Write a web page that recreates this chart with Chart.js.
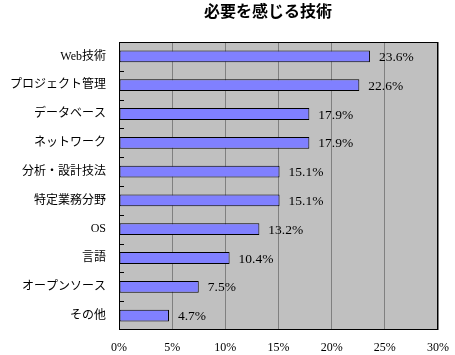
<!DOCTYPE html>
<html><head><meta charset="utf-8">
<script src="https://cdn.jsdelivr.net/npm/chart.js@4"></script>
<style>html,body{margin:0;padding:0;background:#fff}#wrap{width:455px;height:355px}</style>
</head><body><div id="wrap"><canvas id="c"></canvas></div>
<script>
const title = "必要を感じる技術";
const categories = ["Web技術","プロジェクト管理","データベース","ネットワーク","分析・設計技法","特定業務分野","OS","言語","オープンソース","その他"];
const values = [23.6,22.6,17.9,17.9,15.1,15.1,13.2,10.4,7.5,4.7];
const xTicks = [0,5,10,15,20,25,30];

const SERIF = '"Liberation Serif", "Noto Sans CJK JP", serif';
const deco = {
  id:'deco',
  beforeDraw(chart){
    const {ctx, chartArea:a} = chart;
    ctx.save(); ctx.fillStyle='#C0C0C0';
    ctx.fillRect(a.left,a.top,a.right-a.left,a.bottom-a.top); ctx.restore();
  },
  afterDatasetsDraw(chart){
    const {ctx, chartArea:a} = chart;
    const ys = chart.scales.y;
    ctx.save();
    ctx.strokeStyle='#000'; ctx.lineWidth=1;
    ctx.strokeRect(Math.round(a.left)+0.5, Math.round(a.top)+0.5, Math.round(a.right-a.left)-1, Math.round(a.bottom-a.top)-1);
    ctx.beginPath();
    for(let i=0;i<categories.length-1;i++){
      const y = Math.round((ys.getPixelForValue(i)+ys.getPixelForValue(i+1))/2)+0.5;
      ctx.moveTo(a.left, y); ctx.lineTo(a.left+5, y);
    }
    ctx.stroke();
    const meta = chart.getDatasetMeta(0);
    ctx.fillStyle='#000'; ctx.font='13.5px '+SERIF; ctx.textBaseline='middle'; ctx.textAlign='left';
    meta.data.forEach((el,i)=>{ ctx.fillText(values[i].toFixed(1)+'%', el.x+9, el.y+1); });
    ctx.font='bold 16px "Noto Sans CJK JP", sans-serif'; ctx.textAlign='center';
    ctx.fillText(title, 268, 11);
    ctx.restore();
  }
};
new Chart(document.getElementById('c'), {
  type:'bar',
  data:{labels:categories, datasets:[{data:values, backgroundColor:'#8080FF', borderColor:'#000', borderWidth:1, borderSkipped:false, categoryPercentage:1, barPercentage:0.41}]},
  options:{
    indexAxis:'y', responsive:true, maintainAspectRatio:false, animation:false,
    layout:{padding:{left:0,right:17,top:42,bottom:0}},
    plugins:{legend:{display:false}, tooltip:{enabled:false}},
    scales:{
      x:{min:0,max:30,
        afterBuildTicks(s){ s.ticks = xTicks.map(v=>({value:v})); },
        afterFit(s){ s.height=25; s.paddingLeft=0; s.paddingRight=0; },
        grid:{color:'#808080', drawTicks:false},
        border:{display:false},
        ticks:{padding:11, color:'#000', font:{family:SERIF,size:12}, callback:v=>v+'%'}
      },
      y:{
        afterFit(s){ s.width=119; s.paddingTop=0; s.paddingBottom=0; },
        grid:{display:false, drawTicks:false},
        border:{display:false},
        ticks:{padding:13, color:'#000', font:{family:SERIF,size:12}}
      }
    }
  },
  plugins:[deco]
});
</script></body></html>
